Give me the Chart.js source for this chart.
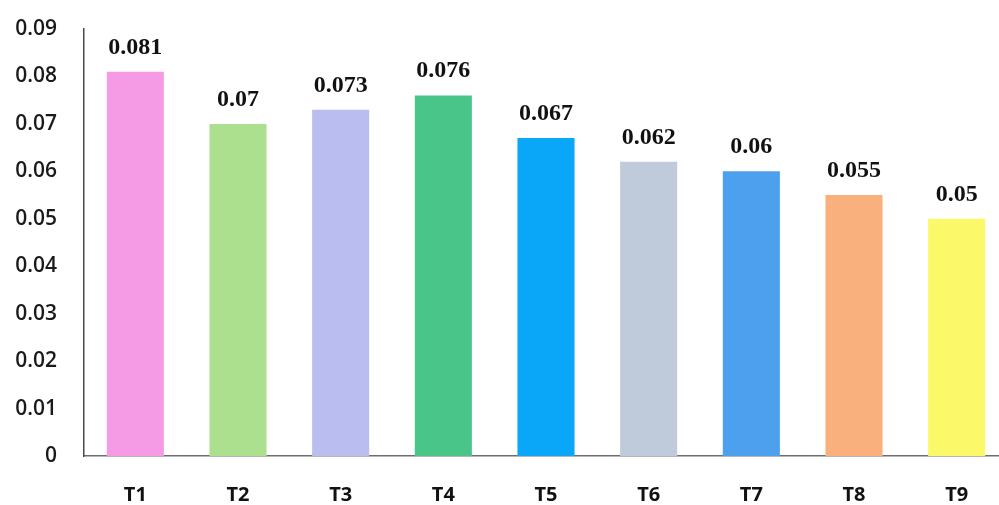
<!DOCTYPE html>
<html>
<head>
<meta charset="utf-8">
<script src="https://cdn.jsdelivr.net/npm/chart.js@4.4.1/dist/chart.umd.min.js"></script>
<style>
  html, body { margin: 0; padding: 0; background: #ffffff; overflow: hidden; }
  #wrap { width: 999px; height: 505px; overflow: hidden; position: relative; }
  canvas { display: block; }
</style>
</head>
<body>
<div id="wrap"><canvas id="chart" width="1008" height="505"></canvas></div>
<script>
// Treatments and their measured values
const categories = ['T1', 'T2', 'T3', 'T4', 'T5', 'T6', 'T7', 'T8', 'T9'];
const values = [0.081, 0.07, 0.073, 0.076, 0.067, 0.062, 0.06, 0.055, 0.05];
const valueLabels = ['0.081', '0.07', '0.073', '0.076', '0.067', '0.062', '0.06', '0.055', '0.05'];
const barColors = ['#f59be6', '#ace08f', '#babdf0', '#49c589', '#0aa6f8', '#bfcadb', '#4ca0ee', '#f9b07c', '#fbf86a'];
const yTicks = [0, 0.01, 0.02, 0.03, 0.04, 0.05, 0.06, 0.07, 0.08, 0.09];

// Writes each bar's value above it
const valueLabelPlugin = {
  id: 'valueLabels',
  afterDatasetsDraw(chart) {
    const ctx = chart.ctx;
    const meta = chart.getDatasetMeta(0);
    ctx.save();
    ctx.font = 'bold 24px "Liberation Serif", "DejaVu Serif", serif';
    ctx.fillStyle = '#111111';
    ctx.textAlign = 'center';
    ctx.textBaseline = 'alphabetic';
    meta.data.forEach((bar, i) => {
      ctx.fillText(valueLabels[i], bar.x, bar.y - 18);
    });
    ctx.restore();
  }
};

new Chart(document.getElementById('chart'), {
  type: 'bar',
  data: {
    labels: categories,
    datasets: [{
      data: values,
      backgroundColor: barColors,
      borderWidth: 0,
      barPercentage: 0.556,
      categoryPercentage: 1.0
    }]
  },
  options: {
    responsive: false,
    devicePixelRatio: 1,
    animation: false,
    layout: { padding: { top: 29, right: 0, bottom: 0, left: 0 } },
    plugins: {
      legend: { display: false },
      tooltip: { enabled: false }
    },
    scales: {
      x: {
        grid: { display: false, drawTicks: false },
        border: { display: true, color: '#6e6e6e', width: 1.5 },
        ticks: {
          padding: 27,
          color: '#111111',
          font: { family: '"Open Sans", "Liberation Sans", sans-serif', size: 20, weight: 'bold' }
        },
        afterFit(scale) { scale.height = 49; }
      },
      y: {
        min: 0,
        max: 0.09,
        grid: { display: false, drawTicks: false },
        border: { display: true, color: '#4a4a4a', width: 1.5 },
        afterBuildTicks(scale) { scale.ticks = yTicks.map(v => ({ value: v })); },
        ticks: {
          padding: 27,
          color: '#1a1a1a',
          font: { family: '"Open Sans", "Liberation Sans", sans-serif', size: 21, weight: '600' },
          callback: (v) => String(parseFloat(v.toFixed(2)))
        },
        afterFit(scale) {
          scale.width = 84;
          scale.paddingTop = 0;
          scale.paddingBottom = 0;
        }
      }
    }
  },
  plugins: [valueLabelPlugin]
});
</script>
</body>
</html>
